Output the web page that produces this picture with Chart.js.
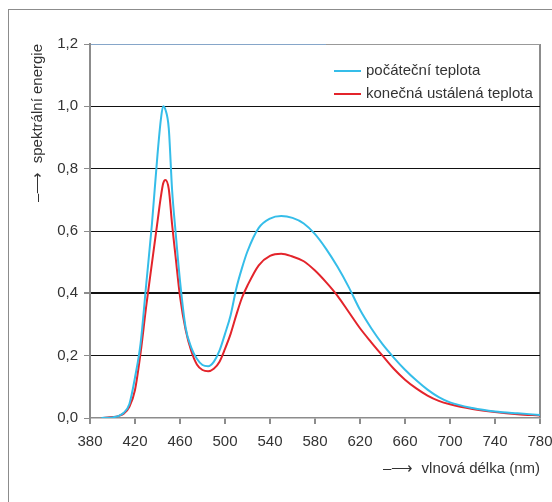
<!DOCTYPE html>
<html>
<head>
<meta charset="utf-8">
<script src="https://cdn.jsdelivr.net/npm/chart.js@4.4.1/dist/chart.umd.min.js"></script>
<style>
  html, body { margin: 0; padding: 0; background: #fff; }
</style>
</head>
<body>
<canvas id="graf" width="552" height="502"></canvas>
<script>
// Vlnové délky (nm) a hodnoty spektrální energie
const vlnoveDelky = [390, 400, 405, 410, 415, 420, 425, 430, 435, 440, 443, 445, 447, 450, 453, 456, 460, 465, 470, 475, 480, 485, 490, 495, 500, 505, 510, 515, 520, 530, 540, 550, 560, 570, 580, 590, 600, 610, 620, 630, 640, 650, 660, 670, 680, 690, 700, 720, 740, 760, 780];
const pocatecni = [0, 0.002, 0.006, 0.017, 0.045, 0.13, 0.24, 0.43, 0.62, 0.845, 0.958, 1.0, 0.99, 0.93, 0.73, 0.6, 0.44, 0.29, 0.226, 0.19, 0.17, 0.166, 0.18, 0.215, 0.27, 0.33, 0.415, 0.48, 0.535, 0.61, 0.64, 0.648, 0.642, 0.624, 0.59, 0.542, 0.485, 0.42, 0.347, 0.288, 0.237, 0.194, 0.155, 0.121, 0.091, 0.067, 0.05, 0.032, 0.021, 0.015, 0.01];
const konecna = [0, 0.003, 0.006, 0.014, 0.036, 0.09, 0.21, 0.36, 0.495, 0.63, 0.71, 0.752, 0.764, 0.735, 0.62, 0.52, 0.39, 0.283, 0.215, 0.172, 0.154, 0.15, 0.158, 0.18, 0.222, 0.27, 0.33, 0.385, 0.425, 0.49, 0.52, 0.527, 0.518, 0.503, 0.473, 0.435, 0.392, 0.34, 0.288, 0.243, 0.2, 0.158, 0.123, 0.095, 0.072, 0.055, 0.044, 0.029, 0.019, 0.012, 0.008];
const popisky = ["počáteční teplota", "konečná ustálená teplota"];
const osaX = "–⟶  vlnová délka (nm)";
const osaY = "–⟶  spektrální energie";

const pismo = "'Liberation Sans', Arial, Helvetica, sans-serif";
const seda = "#8c8c8c";

// Rámeček kolem celého obrázku
const ramecek = {
  id: "ramecek",
  beforeDraw(chart) {
    const c = chart.ctx;
    c.save();
    c.strokeStyle = seda;
    c.lineWidth = 1;
    c.strokeRect(8.5, 9.5, 700, 700);
    c.restore();
  },
};

// Legenda uvnitř grafu vpravo nahoře
const legenda = {
  id: "legenda",
  afterDraw(chart) {
    const c = chart.ctx;
    c.save();
    c.font = "15px " + pismo;
    c.textBaseline = "middle";
    chart.data.datasets.forEach((ds, i) => {
      const y = 71 + i * 23;
      c.strokeStyle = ds.borderColor;
      c.lineWidth = 2;
      c.beginPath();
      c.moveTo(334, y);
      c.lineTo(361, y);
      c.stroke();
      c.fillStyle = "#333";
      c.fillText(ds.label, 366, y);
    });
    c.restore();
  },
};

const ctx = document.getElementById("graf");

new Chart(ctx, {
  type: "line",
  data: {
    datasets: [
      {
        label: popisky[0],
        data: vlnoveDelky.map((x, i) => ({ x: x, y: pocatecni[i] })),
        borderColor: "#35bde9",
        borderWidth: 2,
        pointRadius: 0,
        cubicInterpolationMode: "monotone",
      },
      {
        label: popisky[1],
        data: vlnoveDelky.map((x, i) => ({ x: x, y: konecna[i] })),
        borderColor: "#e3242b",
        borderWidth: 2,
        pointRadius: 0,
        cubicInterpolationMode: "monotone",
      },
    ],
  },
  options: {
    responsive: false,
    animation: false,
    layout: { padding: { left: 0, right: 12, top: 44, bottom: 24 } },
    plugins: {
      legend: { display: false },
      tooltip: { enabled: false },
    },
    scales: {
      x: {
        type: "linear",
        min: 380,
        max: 780,
        afterFit: (s) => {
          s.height = 60;
          s.paddingLeft = 0;
          s.paddingRight = 0;
        },
        ticks: {
          stepSize: 40,
          color: "#333",
          padding: 9,
          maxRotation: 0,
          font: { family: pismo, size: 15 },
        },
        grid: {
          color: (c) => (c.tick && c.tick.value === 780 ? seda : "rgba(0,0,0,0)"),
          lineWidth: 2,
          tickColor: seda,
          tickLength: 6,
        },
        border: { color: seda, width: 1.5 },
        title: {
          display: true,
          text: osaX,
          align: "end",
          color: "#333",
          padding: 0,
          font: { family: pismo, size: 15 },
        },
      },
      y: {
        min: 0,
        max: 1.2,
        afterFit: (s) => { s.width = 90; },
        ticks: {
          stepSize: 0.2,
          color: "#333",
          padding: 6,
          font: { family: pismo, size: 15 },
          callback: (v) => v.toFixed(1).replace(".", ","),
        },
        grid: {
          color: (c) => {
            if (!c.tick) return "#000";
            const v = c.tick.value;
            if (Math.abs(v) < 0.001) return "rgba(0,0,0,0)";
            if (Math.abs(v - 1.2) < 0.001) {
              const a = c.chart.chartArea;
              const g = c.chart.ctx.createLinearGradient(a.left, 0, a.right, 0);
              g.addColorStop(0, "#86a6c9");
              g.addColorStop(0.524, "#86a6c9");
              g.addColorStop(0.525, "#999");
              g.addColorStop(1, "#999");
              return g;
            }
            return "#111";
          },
          lineWidth: (c) => (c.tick && Math.abs(c.tick.value - 0.4) < 0.001 ? 2 : 1),
          tickColor: seda,
          tickLength: 6,
        },
        border: { color: seda, width: 2 },
        title: {
          display: true,
          text: osaY,
          align: "end",
          color: "#333",
          padding: { top: 29, bottom: 0 },
          font: { family: pismo, size: 15 },
        },
      },
    },
  },
  plugins: [ramecek, legenda],
});
</script>
</body>
</html>
